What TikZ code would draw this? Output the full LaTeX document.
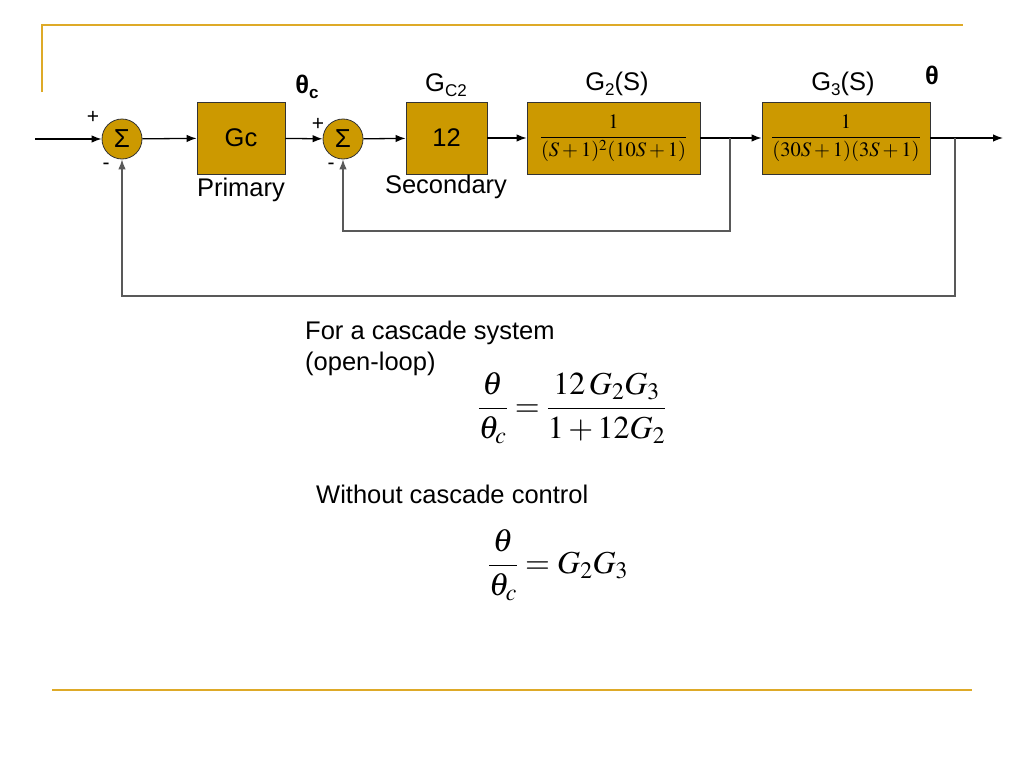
\documentclass[tikz,border=0pt]{standalone}
\usepackage{mathptmx}
\usepackage{fontspec}
\setmainfont{Liberation Sans}
\usetikzlibrary{arrows.meta}
\definecolor{gold}{RGB}{204,153,0}
\definecolor{rulecol}{RGB}{222,170,40}
\begin{document}
\begin{tikzpicture}[x=1pt,y=-1pt,
  blk/.style={draw=black!80, fill=gold, line width=0.8pt, inner sep=0pt, font=\fontsize{25.5}{28}\selectfont},
  sumnode/.style={circle, draw=black!80, fill=gold, line width=0.8pt, minimum size=40pt, inner sep=0pt, font=\fontsize{26}{28}\selectfont},
  arr/.style={-{Latex[length=10pt,width=7.5pt]}, line width=1.3pt},
  fb/.style={-{Latex[length=10pt,width=7.5pt]}, line width=1.2pt, draw=black!65},
  lbl/.style={font=\fontsize{25.5}{28}\selectfont, inner sep=0pt},
  sgn/.style={font=\fontsize{21}{22}\selectfont, inner sep=0pt},
  eqn/.style={font=\fontsize{32}{36}\selectfont, inner sep=0pt}
]
\useasboundingbox (0,0) rectangle (1024,768);
% slide rules
\draw[rulecol, line width=2pt] (42,92) -- (42,25) -- (963,25);
\draw[rulecol, line width=2pt] (52,690) -- (972,690);

% blocks
\node[sumnode] (s1) at (122,139) {Σ};
\node[blk, minimum width=88pt, minimum height=72pt] (gc) at (241,138) {Gc};
\node[sumnode] (s2) at (343,139) {Σ};
\node[blk, minimum width=81pt, minimum height=72pt] (k) at (446.5,138) {12};
\node[blk, minimum width=173pt, minimum height=72pt] (g2) at (613.5,138) {\fontsize{20.5}{24}\selectfont$\displaystyle\frac{1}{(S+1)^2(10S+1)}$};
\node[blk, minimum width=168pt, minimum height=72pt] (g3) at (846,138) {\fontsize{20.5}{24}\selectfont$\displaystyle\frac{1}{(30S+1)(3S+1)}$};

% coordinates
\coordinate (in) at (35,139);
\coordinate (out) at (1003,138);
\coordinate (b1) at (730,138);
\coordinate (c1) at (730,231);
\coordinate (b2) at (955,138);
\coordinate (c2) at (955,296);

% forward path
\draw[arr] (in) -- (s1);
\draw[arr] (s1) -- (gc);
\draw[arr] (gc) -- (s2);
\draw[arr] (s2) -- (k);
\draw[arr] (k) -- (g2);
\draw[arr] (g2.east) -- (g3.west);
\draw[arr] (g3.east) -- (out);

% feedback
\draw[fb] (b1) -- (c1) -| (s2.south);
\draw[fb] (b2) -- (c2) -| (s1.south);

% signs
\node[sgn] (p1) at (93,117) {+};
\node[sgn] (m1) at (106,166) {-};
\node[sgn] (p2) at (318,124) {+};
\node[sgn] (m2) at (331,166) {-};

% labels
\node[lbl] (thc) at (307,87) {\bfseries θ\raisebox{-5pt}{\fontsize{17}{17}\selectfont\bfseries c}};
\node[lbl] (gc2) at (446,85) {G\raisebox{-5pt}{\fontsize{17}{17}\selectfont C2}};
\node[lbl] (g2l) at (617,84) {G\raisebox{-5pt}{\fontsize{17}{17}\selectfont 2}(S)};
\node[lbl] (g3l) at (843,84) {G\raisebox{-5pt}{\fontsize{17}{17}\selectfont 3}(S)};
\node[lbl] (th) at (932,75) {\bfseries θ};
\node[lbl] (prim) at (241,190) {Primary};
\node[lbl] (sec) at (446,187) {Secondary};

% text
\node[lbl, anchor=west] (t1) at (305,333) {For a cascade system};
\node[lbl, anchor=west] (t2) at (305,364) {(open-loop)};
\node[lbl, anchor=west] (t3) at (316,494) {Without cascade control};

% equations
\node[eqn] (eq1) at (572,408) {$\displaystyle\frac{\theta}{\theta_c}=\frac{12\,G_2G_3}{1+12G_2}$};
\node[eqn] (eq2) at (558,565) {$\displaystyle\frac{\theta}{\theta_c}=G_2G_3$};
\end{tikzpicture}
\end{document}
